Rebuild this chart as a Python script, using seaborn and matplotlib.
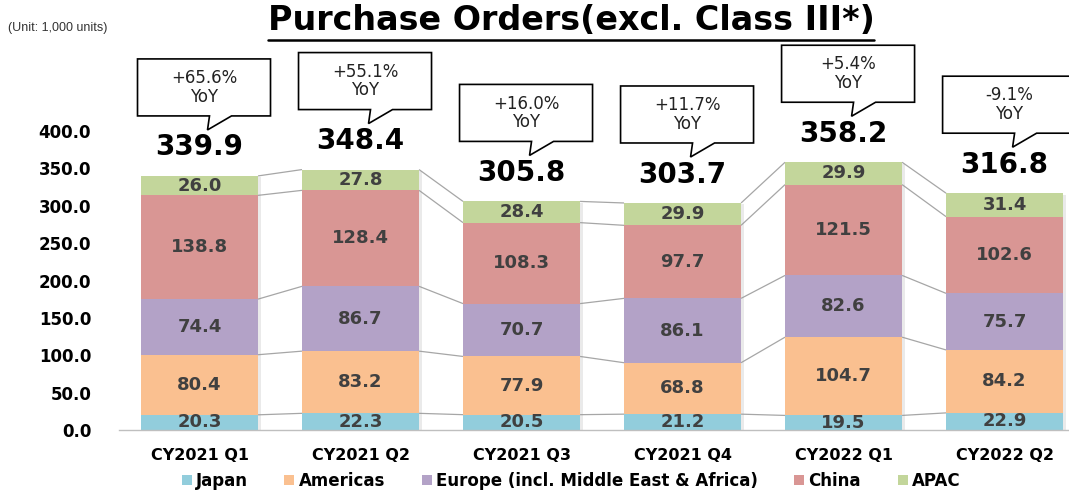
import numpy as np
import pandas as pd
import matplotlib
matplotlib.use("Agg")
import matplotlib.pyplot as plt
import seaborn as sns
from matplotlib.patches import Polygon, Patch
from matplotlib.lines import Line2D
from matplotlib import patheffects as pe

# ---------------- data ----------------
quarters = ["CY2021 Q1", "CY2021 Q2", "CY2021 Q3", "CY2021 Q4", "CY2022 Q1", "CY2022 Q2"]
regions = ["Japan", "Americas", "Europe (incl. Middle East & Africa)", "China", "APAC"]
japan = [20.3, 22.3, 20.5, 21.2, 19.5, 22.9]
americas = [80.4, 83.2, 77.9, 68.8, 104.7, 84.2]
europe = [74.4, 86.7, 70.7, 86.1, 82.6, 75.7]
china = [138.8, 128.4, 108.3, 97.7, 121.5, 102.6]
apac = [26.0, 27.8, 28.4, 29.9, 29.9, 31.4]
totals = [339.9, 348.4, 305.8, 303.7, 358.2, 316.8]
yoy = ["+65.6%", "+55.1%", "+16.0%", "+11.7%", "+5.4%", "-9.1%"]
yticks = [0, 50, 100, 150, 200, 250, 300, 350, 400]

colors = ["#92CDDC", "#FAC090", "#B3A2C7", "#D99694", "#C3D69B"]

series = [japan, americas, europe, china, apac]
df = pd.DataFrame({"quarter": quarters})
cum = np.cumsum(np.array(series), axis=0)  # rows: cumulative through each region
for k, r in enumerate(regions):
    df[r] = cum[k]

# ---------------- figure ----------------
sns.set_theme(style="white")
plt.rcParams["font.family"] = ["DejaVu Sans"]
W, H = 1069, 492
fig = plt.figure(figsize=(W / 100, H / 100), dpi=100)
ax = fig.add_axes([119 / W, 62 / H, (W - 119) / W, 299 / H])

bar_w = 0.727
# draw cumulative layers from top-most to bottom so they stack visually
for k in range(len(regions) - 1, -1, -1):
    sns.barplot(data=df, x="quarter", y=regions[k], color=colors[k], saturation=1,
                width=bar_w, ax=ax, linewidth=0, zorder=2)
# subtle shadow on the full-height bars (first drawn container)
for p in ax.containers[0].patches:
    p.set_path_effects([pe.SimplePatchShadow(offset=(2, -1), shadow_rgbFace="#9a9a9a", alpha=0.2),
                        pe.Normal()])

ax.set_xlim(-0.5, 5.4)
ax.set_ylim(0, 400)
ax.set_yticks(yticks)
ax.set_yticklabels([f"{v:.1f}" for v in yticks], fontsize=12, fontweight="bold", color="black")
ax.set_xticks(range(len(quarters)))
ax.set_xticklabels(quarters, fontsize=11.5, fontweight="bold", color="black")
ax.tick_params(axis="y", length=0, pad=20)
ax.tick_params(axis="x", length=0, pad=13)
ax.set_xlabel("")
ax.set_ylabel("")
for s in ["top", "right", "left"]:
    ax.spines[s].set_visible(False)
ax.spines["bottom"].set_color("#bfbfbf")
ax.spines["bottom"].set_linewidth(1)
ax.grid(False)

# connector lines between bars
half = bar_w / 2
for i in range(len(quarters) - 1):
    for k in range(len(regions)):
        ax.plot([i + half, i + 1 - half], [cum[k][i], cum[k][i + 1]],
                color="#a6a6a6", lw=0.9, zorder=1, solid_capstyle="butt")

# segment labels
for k in range(len(regions)):
    for i in range(len(quarters)):
        base = cum[k - 1][i] if k > 0 else 0
        val = series[k][i]
        ax.text(i, base + val / 2, f"{val:.1f}", ha="center", va="center",
                fontsize=13, fontweight="bold", color="#404040", zorder=5)

# total labels
for i, t in enumerate(totals):
    ax.annotate(f"{t:.1f}", (i, t), xytext=(0, 20.5), textcoords="offset points",
                ha="center", va="center", fontsize=20, fontweight="bold",
                color="black", annotation_clip=False)

# callout boxes (speech bubbles) in pixel offsets from the bar top
fig.canvas.draw()
bw, bh = 133, 57
for i, t in enumerate(totals):
    cx, cy = ax.transData.transform((i, t))
    left = cx - 62
    bottom = cy + 60
    top = bottom + bh
    right = left + bw
    tip = (cx + 8, cy + 46)
    verts = [(left, bottom), (cx + 10, bottom), tip, (cx + 32, bottom),
             (right, bottom), (right, top), (left, top)]
    poly = Polygon(verts, closed=True, facecolor="white", edgecolor="black",
                   linewidth=1.2, transform=None, zorder=6, clip_on=False)
    fig.add_artist(poly)
    fig.text((left + bw / 2) / W, (bottom + bh / 2) / H, f"{yoy[i]}\nYoY",
             ha="center", va="center", fontsize=12, color="#222222",
             linespacing=1.05, zorder=7)

# title with underline
title = fig.text(571 / W, 1 - 21 / H, "Purchase Orders(excl. Class III*)",
                 ha="center", va="center", fontsize=24, fontweight="bold", color="black")
fig.canvas.draw()
bb = title.get_window_extent()
fig.add_artist(Line2D([bb.x0 / W, bb.x1 / W], [(H - 40) / H, (H - 40) / H],
                      color="black", lw=1.8, transform=fig.transFigure))

fig.text(8 / W, 1 - 28 / H, "(Unit: 1,000 units)", ha="left", va="center",
         fontsize=9, family="Liberation Sans", color="#333333")

# legend
handles = [Patch(facecolor=c, edgecolor="none") for c in colors]
fig.legend(handles, regions, loc="center", bbox_to_anchor=(571 / W, 1 - 481 / H),
           ncol=5, frameon=False, handlelength=0.6, handleheight=0.6, handletextpad=0.25,
           columnspacing=2.2, labelcolor="black", prop={"weight": "bold", "size": 12})

fig.savefig("out.png", dpi=100)
